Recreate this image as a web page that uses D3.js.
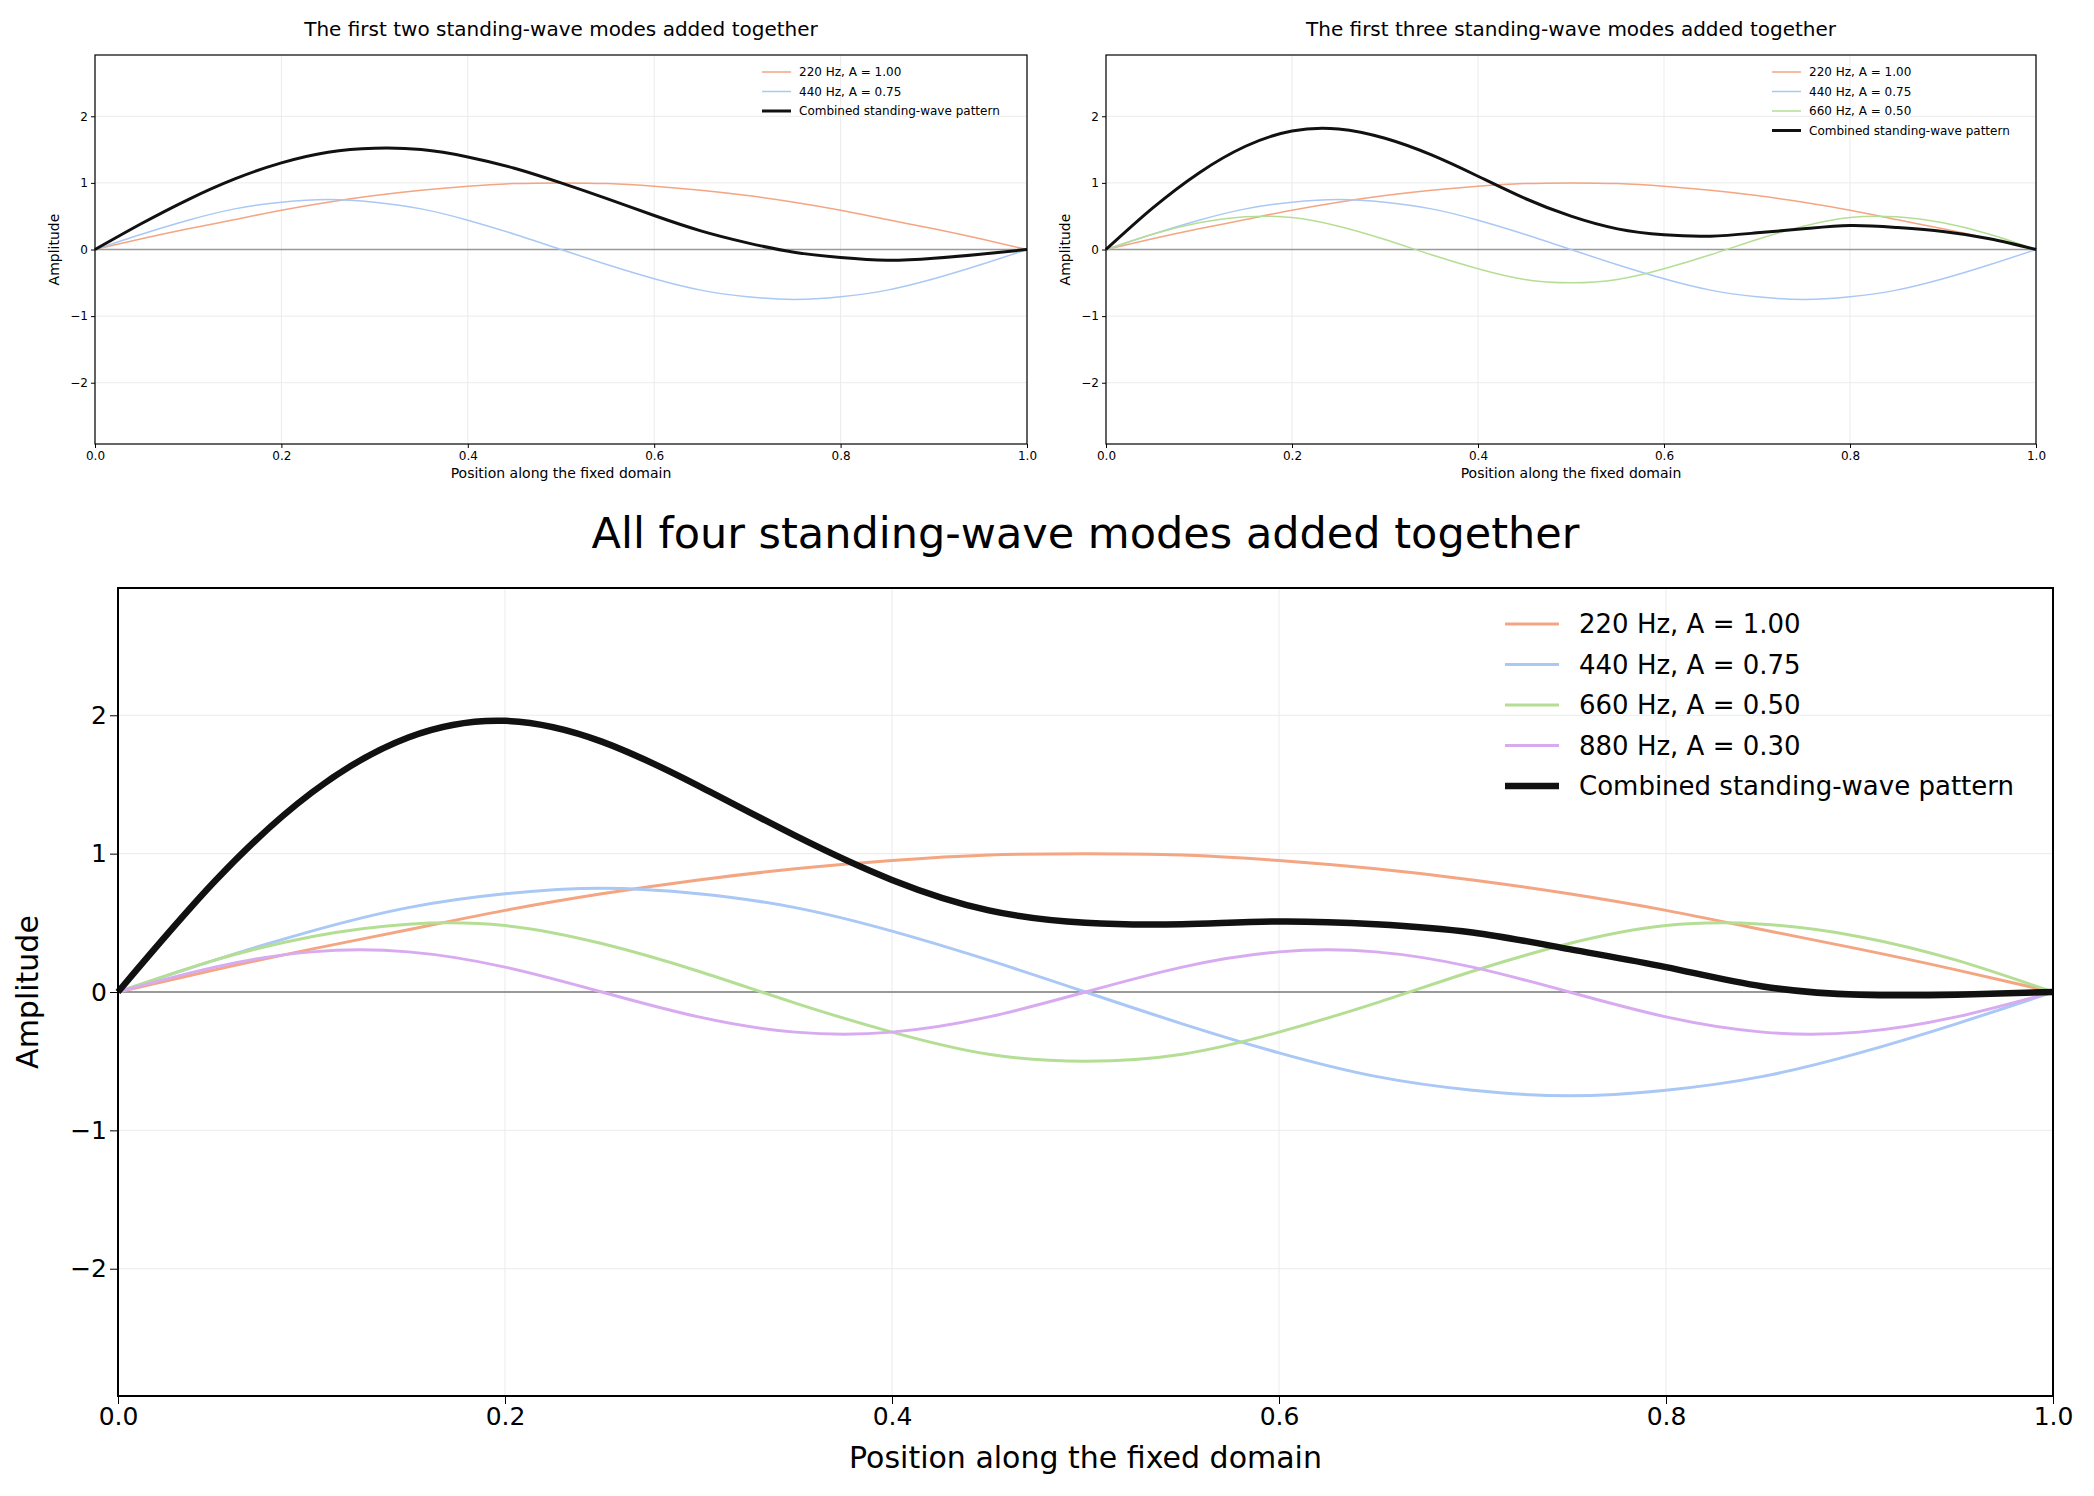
<html>
<script src='https://d3js.org/d3.v7.min.js'></script>
<style> body{margin:0;background:#fff;} text{font-family:'DejaVu Sans',sans-serif;} </style>
<body onload='init()'>
<svg width=2094 height=1496></svg>
<script>
function init() {
// positions 0, 0.05, ..., 1 and the mode shapes
const xs = d3.range(21).map(i => i / 20);
const modes = [
  {label: '220 Hz, A = 1.00', color: '#f4a582', y: [0,.16,.31,.45,.59,.71,.81,.89,.95,.99,1,.99,.95,.89,.81,.71,.59,.45,.31,.16,0]},
  {label: '440 Hz, A = 0.75', color: '#a9c8f5', y: [0,.23,.44,.61,.71,.75,.71,.61,.44,.23,0,-.23,-.44,-.61,-.71,-.75,-.71,-.61,-.44,-.23,0]},
  {label: '660 Hz, A = 0.50', color: '#b5de95', y: [0,.23,.40,.49,.48,.35,.15,-.08,-.29,-.45,-.5,-.45,-.29,-.08,.15,.35,.48,.49,.40,.23,0]},
  {label: '880 Hz, A = 0.30', color: '#d8aaf0', y: [0,.18,.29,.29,.18,0,-.18,-.29,-.29,-.18,0,.18,.29,.29,.18,0,-.18,-.29,-.29,-.18,0]}
];
const svg = d3.select('svg');

function panel(o) {
  const x = d3.scaleLinear().domain([0,1]).range([o.l, o.r]);
  const y = d3.scaleLinear().domain([-2.92,2.92]).range([o.b, o.t]);
  const g = svg.append('g');
  const used = modes.slice(0, o.n);
  const comb = xs.map((_, i) => d3.sum(used, m => m.y[i]));
  // grid
  g.selectAll('.gx').data(x.ticks(5)).enter().append('line')
    .attr('x1', d => x(d)).attr('x2', d => x(d)).attr('y1', o.t).attr('y2', o.b)
    .attr('stroke', '#ebebeb').attr('stroke-width', 1);
  g.selectAll('.gy').data([-2,-1,0,1,2]).enter().append('line')
    .attr('y1', d => y(d)).attr('y2', d => y(d)).attr('x1', o.l).attr('x2', o.r)
    .attr('stroke', '#ebebeb').attr('stroke-width', 1);
  g.append('line').attr('x1', o.l).attr('x2', o.r).attr('y1', y(0)).attr('y2', y(0))
    .attr('stroke', '#999').attr('stroke-width', o.big ? 2 : 1.3);
  const line = d3.line().x((d, i) => x(xs[i])).y(d => y(d)).curve(d3.curveNatural);
  used.forEach(m => g.append('path').attr('d', line(m.y)).attr('fill', 'none')
    .attr('stroke', m.color).attr('stroke-width', o.big ? 3 : 1.5));
  g.append('path').attr('d', line(comb)).attr('fill', 'none')
    .attr('stroke', '#111').attr('stroke-width', o.big ? 6.5 : 3);
  // axes
  const fs = o.big ? 25 : 12;
  const ax = g.append('g').attr('transform', 'translate(0,' + o.b + ')')
    .call(d3.axisBottom(x).tickValues([0,.2,.4,.6,.8,1]).tickFormat(d3.format('.1f')).tickSizeOuter(0).tickSize(o.big ? 8 : 4));
  const ay = g.append('g').attr('transform', 'translate(' + o.l + ',0)')
    .call(d3.axisLeft(y).tickValues([-2,-1,0,1,2]).tickFormat(d => d < 0 ? '\u2212' + (-d) : d).tickSizeOuter(0).tickSize(o.big ? 8 : 4));
  [ax, ay].forEach(a => { a.selectAll('text').style('font-size', fs + 'px').attr('fill', '#000'); a.select('.domain').remove(); });
  g.append('rect').attr('x', o.l).attr('y', o.t).attr('width', o.r - o.l).attr('height', o.b - o.t)
    .attr('fill', 'none').attr('stroke', '#000').attr('stroke-width', o.big ? 2 : 1.2);
  g.append('text').attr('x', (o.l + o.r) / 2).attr('y', o.tt).attr('text-anchor', 'middle')
    .style('font-size', o.big ? '43px' : '20px').text(o.title);
  g.append('text').attr('x', (o.l + o.r) / 2).attr('y', o.b + (o.big ? 72 : 34)).attr('text-anchor', 'middle')
    .style('font-size', o.big ? '30px' : '14px').text('Position along the fixed domain');
  g.append('text').attr('transform', 'translate(' + (o.l - (o.big ? 80 : 36)) + ',' + (o.t + o.b) / 2 + ') rotate(-90)')
    .attr('text-anchor', 'middle').style('font-size', o.big ? '30px' : '14px').text('Amplitude');
  // legend
  const items = used.map(m => ({label: m.label, color: m.color, w: o.big ? 3 : 1.5}))
    .concat([{label: 'Combined standing-wave pattern', color: '#111', w: o.big ? 6.5 : 3}]);
  const lg = g.selectAll('.lg').data(items).enter().append('g')
    .attr('transform', (d, i) => 'translate(' + o.lx + ',' + (o.ly + i * o.ld) + ')');
  lg.append('line').attr('x1', 0).attr('x2', o.big ? 54 : 29).attr('stroke', d => d.color).attr('stroke-width', d => d.w);
  lg.append('text').attr('x', o.big ? 74 : 37).attr('dy', '0.35em').style('font-size', o.big ? '26px' : '12px').text(d => d.label);
}

panel({n: 2, l: 95, r: 1027, t: 55, b: 444, tt: 36, title: 'The first two standing-wave modes added together', lx: 762, ly: 72, ld: 19.5});
panel({n: 3, l: 1106, r: 2036, t: 55, b: 444, tt: 36, title: 'The first three standing-wave modes added together', lx: 1772, ly: 72, ld: 19.5});
panel({n: 4, l: 118, r: 2053, t: 588, b: 1396, tt: 548, big: true, title: 'All four standing-wave modes added together', lx: 1505, ly: 624, ld: 40.5});
}
</script>
</body>
</html>
